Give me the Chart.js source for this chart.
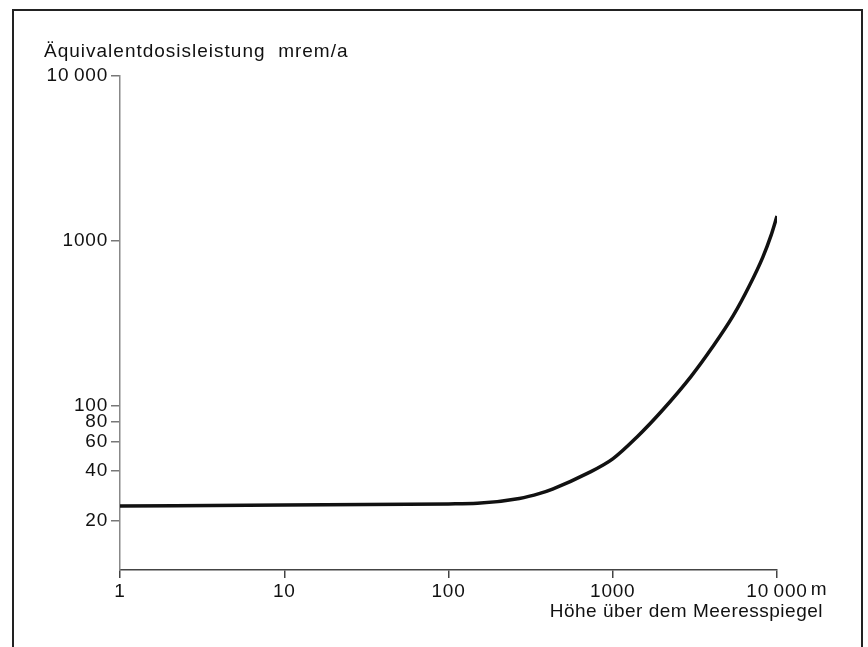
<!DOCTYPE html>
<html>
<head>
<meta charset="utf-8">
<script src="https://cdn.jsdelivr.net/npm/chart.js@4"></script>
<style>
  html, body { margin: 0; padding: 0; background: #fff; overflow: hidden; }
  #wrap { position: relative; width: 868px; height: 647px; }
  #frame {
    position: absolute; left: 12px; top: 9px; width: 847px; height: 700px;
    border: 2px solid #222; border-bottom: none;
  }
  canvas { position: absolute; left: 0; top: 0; }
</style>
</head>
<body>
<div id="wrap">
  <div id="frame"></div>
  <canvas id="chart" width="868" height="647"></canvas>
</div>
<script>
// Höhe über dem Meeresspiegel (m) und Äquivalentdosisleistung (mrem/a)
const heights = [1, 10, 100, 150, 270, 360, 430, 700, 1000, 1400, 2000, 3000, 4000, 5400, 6800, 8200, 9200, 10000];
const doseRates = [24.5, 24.8, 25.2, 25.4, 27.2, 29.2, 31, 38.6, 47.3, 64, 93, 150, 222, 349, 534, 795, 1077, 1410];

const xTicks = [1, 10, 100, 1000, 10000];
const yTicks = [20, 40, 60, 80, 100, 1000, 10000];

const yTitle = 'Äquivalentdosisleistung  mrem/a';
const xTitle = 'Höhe über dem Meeresspiegel';
const xUnit = 'm';

const FONT = "'Liberation Sans', Arial, sans-serif";
const FONT_SIZE = 19;
const SPACING = '0.8px';

// Zahlen mit Tausender-Lücke wie im Original ("10 000")
function fmt(v) {
    return v >= 10000 ? '10\u2009000' : String(v);
}

// etwas breitere Schrift wie im Druck
const spacingPlugin = {
    id: 'spacing',
    beforeLayout(chart) { chart.ctx.letterSpacing = SPACING; },
    beforeDraw(chart) { chart.ctx.letterSpacing = SPACING; }
};

// Achsentitel und Einheit selbst zeichnen (Position wie in der Vorlage)
const labelsPlugin = {
    id: 'labels',
    afterDraw(chart) {
        const ctx = chart.ctx;
        const area = chart.chartArea;
        const xs = chart.scales.x;
        ctx.save();
        ctx.fillStyle = '#111';
        ctx.font = FONT_SIZE + 'px ' + FONT;
        ctx.textBaseline = 'middle';

        ctx.letterSpacing = '1px';
        ctx.textAlign = 'left';
        ctx.fillText(yTitle, area.left - 76, area.top - 24);

        ctx.letterSpacing = '0.5px';
        ctx.textAlign = 'right';
        ctx.fillText(xTitle, area.right + 46, area.bottom + 42);

        ctx.letterSpacing = SPACING;
        ctx.textAlign = 'left';
        const w = ctx.measureText(fmt(10000)).width;
        ctx.fillText(xUnit, xs.getPixelForValue(10000) + w / 2 + 3, area.bottom + 20);
        ctx.restore();
    }
};

const axisColor = '#444';

new Chart(document.getElementById('chart'), {
    type: 'scatter',
    data: {
        datasets: [{
            data: heights.map((h, i) => ({ x: h, y: doseRates[i] })),
            showLine: true,
            borderColor: '#111',
            borderWidth: 3.5,
            pointRadius: 0,
            cubicInterpolationMode: 'monotone'
        }]
    },
    options: {
        responsive: false,
        animation: false,
        layout: { padding: { left: 0, top: 76, right: 91, bottom: 37 } },
        plugins: {
            legend: { display: false },
            tooltip: { enabled: false }
        },
        scales: {
            x: {
                type: 'logarithmic',
                min: 1,
                max: 10000,
                afterBuildTicks: s => { s.ticks = xTicks.map(v => ({ value: v })); },
                afterFit: s => { s.height = 40; },
                ticks: {
                    callback: v => fmt(v),
                    font: { family: FONT, size: FONT_SIZE },
                    color: '#111',
                    maxRotation: 0,
                    autoSkip: false,
                    padding: 2
                },
                grid: { drawOnChartArea: false, tickLength: 8, color: axisColor, lineWidth: 1.5 },
                border: { color: axisColor, width: 1.5 }
            },
            y: {
                type: 'logarithmic',
                min: 10,
                max: 10000,
                afterBuildTicks: s => { s.ticks = yTicks.map(v => ({ value: v })); },
                afterFit: s => { s.width = 120; },
                ticks: {
                    callback: v => fmt(v),
                    font: { family: FONT, size: FONT_SIZE },
                    color: '#111',
                    autoSkip: false,
                    padding: 3
                },
                grid: { drawOnChartArea: false, tickLength: 9, color: '#777', lineWidth: 1.5 },
                border: { color: '#888', width: 1.5 }
            }
        }
    },
    plugins: [spacingPlugin, labelsPlugin]
});
</script>
</body>
</html>
